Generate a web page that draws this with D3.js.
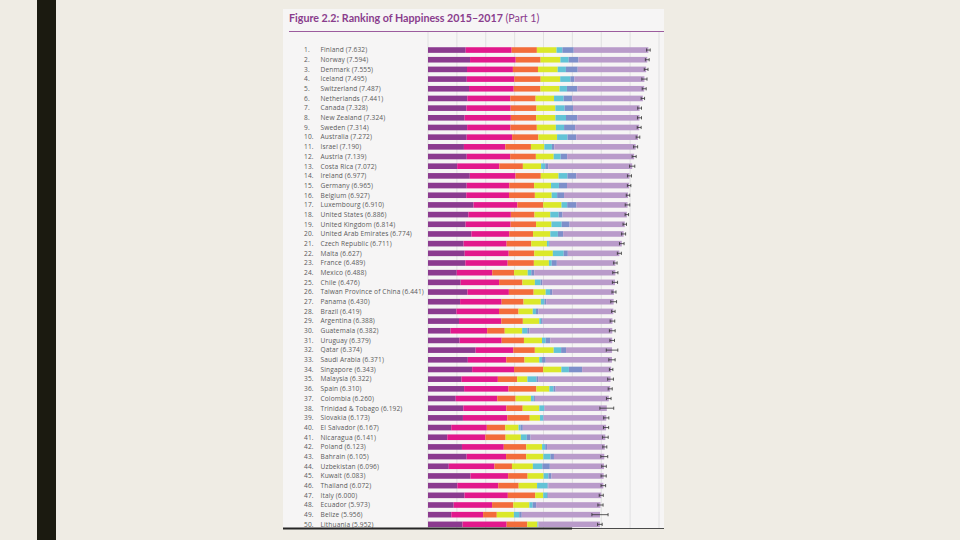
<!DOCTYPE html>
<html>
<head>
<meta charset="utf-8">
<script src="https://cdn.jsdelivr.net/npm/d3@7"></script>
<style>
  html, body { margin: 0; padding: 0; background: #efece4; }
  svg { display: block; }
</style>
</head>
<body>
<svg id="chart" width="960" height="540"></svg>
<script>
// countries in rank order, with the overall score
const countries = ["Finland","Norway","Denmark","Iceland","Switzerland","Netherlands","Canada","New Zealand","Sweden","Australia",
  "Israel","Austria","Costa Rica","Ireland","Germany","Belgium","Luxembourg","United States","United Kingdom","United Arab Emirates",
  "Czech Republic","Malta","France","Mexico","Chile","Taiwan Province of China","Panama","Brazil","Argentina","Guatemala",
  "Uruguay","Qatar","Saudi Arabia","Singapore","Malaysia","Spain","Colombia","Trinidad & Tobago","Slovakia","El Salvador",
  "Nicaragua","Poland","Bahrain","Uzbekistan","Kuwait","Thailand","Italy","Ecuador","Belize","Lithuania"];
const scores = [7.632,7.594,7.555,7.495,7.487,7.441,7.328,7.324,7.314,7.272,
  7.190,7.139,7.072,6.977,6.965,6.927,6.910,6.886,6.814,6.774,
  6.711,6.627,6.489,6.488,6.476,6.441,6.430,6.419,6.388,6.382,
  6.379,6.374,6.371,6.343,6.322,6.310,6.260,6.192,6.173,6.167,
  6.141,6.123,6.105,6.096,6.083,6.072,6.000,5.973,5.956,5.952];

// explained by ...
const gdp = [1.305,1.456,1.351,1.343,1.420,1.361,1.330,1.268,1.355,1.340,
  1.244,1.341,1.010,1.448,1.340,1.324,1.576,1.398,1.301,1.503,
  1.233,1.270,1.293,0.996,1.131,1.365,1.112,0.986,1.073,0.781,
  1.093,1.649,1.379,1.529,1.161,1.251,0.960,1.223,1.210,0.806,
  0.668,1.176,1.338,0.719,1.474,1.016,1.264,0.889,0.807,1.197];
const social = [1.592,1.582,1.590,1.644,1.549,1.488,1.532,1.601,1.501,1.573,
  1.433,1.504,1.459,1.583,1.474,1.483,1.520,1.471,1.559,1.310,
  1.489,1.525,1.466,1.229,1.331,1.436,1.438,1.474,1.468,1.268,
  1.459,1.303,1.331,1.451,1.258,1.538,1.439,1.492,1.537,1.231,
  1.319,1.448,1.366,1.584,1.301,1.417,1.501,1.330,1.101,1.527];
const health = [0.874,0.861,0.868,0.914,0.927,0.878,0.896,0.876,0.913,0.910,
  0.888,0.891,0.817,0.876,0.861,0.894,0.896,0.819,0.883,0.825,
  0.854,0.884,0.908,0.757,0.808,0.857,0.759,0.675,0.744,0.608,
  0.771,0.748,0.633,1.008,0.669,0.965,0.635,0.564,0.776,0.639,
  0.700,0.781,0.698,0.605,0.675,0.707,0.946,0.736,0.474,0.716];
const freedom = [0.681,0.686,0.683,0.677,0.660,0.638,0.653,0.669,0.659,0.647,
  0.464,0.617,0.632,0.614,0.586,0.583,0.632,0.547,0.533,0.598,
  0.543,0.645,0.520,0.472,0.431,0.418,0.597,0.493,0.570,0.604,
  0.625,0.654,0.509,0.631,0.356,0.449,0.531,0.575,0.354,0.461,
  0.527,0.546,0.594,0.724,0.554,0.637,0.281,0.556,0.593,0.350];
const generosity = [0.202,0.286,0.284,0.353,0.256,0.333,0.321,0.365,0.285,0.361,
  0.262,0.242,0.143,0.307,0.273,0.188,0.196,0.291,0.354,0.262,
  0.064,0.376,0.098,0.124,0.197,0.151,0.125,0.110,0.062,0.179,
  0.130,0.256,0.098,0.261,0.311,0.142,0.099,0.171,0.118,0.065,
  0.208,0.108,0.243,0.328,0.167,0.364,0.137,0.114,0.183,0.026];
const corruption = [0.393,0.340,0.408,0.138,0.357,0.295,0.291,0.389,0.383,0.302,
  0.082,0.224,0.101,0.306,0.280,0.240,0.321,0.133,0.272,0.182,
  0.034,0.142,0.176,0.101,0.061,0.078,0.063,0.088,0.054,0.071,
  0.155,0.171,0.127,0.457,0.059,0.074,0.039,0.019,0.014,0.082,
  0.128,0.064,0.123,0.259,0.106,0.029,0.028,0.120,0.089,0.006];
// half width of the 95% confidence whisker
const whisker = [0.063,0.066,0.065,0.090,0.069,0.059,0.066,0.070,0.068,0.063,
  0.070,0.070,0.090,0.070,0.060,0.060,0.080,0.060,0.060,0.070,
  0.080,0.070,0.060,0.090,0.090,0.070,0.100,0.060,0.080,0.100,
  0.080,0.200,0.110,0.060,0.100,0.070,0.080,0.240,0.090,0.090,
  0.100,0.070,0.120,0.080,0.090,0.080,0.070,0.090,0.280,0.080];

const keys = ["gdp","social","health","freedom","generosity","corruption","dystopia"];
const colors = ["#8b3a8f","#e2188c","#f36c3b","#dbe82a","#62c3d6","#7d8fca","#b99bca"];

const rows = countries.map((c, i) => ({
  rank: i + 1, name: c, score: scores[i],
  gdp: gdp[i], social: social[i], health: health[i], freedom: freedom[i],
  generosity: generosity[i], corruption: corruption[i],
  dystopia: scores[i] - gdp[i] - social[i] - health[i] - freedom[i] - generosity[i] - corruption[i],
  ci: whisker[i]
}));

const svg = d3.select("#chart");

// slide decoration
svg.append("rect").attr("x", 37).attr("y", 0).attr("width", 19).attr("height", 540).attr("fill", "#1b1a10");

// figure panel
const panel = {left: 283, top: 9, right: 664, bottom: 529};
svg.append("rect")
  .attr("x", panel.left).attr("y", panel.top)
  .attr("width", panel.right - panel.left).attr("height", panel.bottom - panel.top)
  .attr("fill", "#f6f5f5");

const title = svg.append("text")
  .attr("x", 289).attr("y", 21.5)
  .attr("font-family", "Lato, 'Open Sans', sans-serif")
  .attr("font-size", 10.7)
  .attr("fill", "#8a3d8d");
title.append("tspan").attr("font-weight", "bold").text("Figure 2.2: Ranking of Happiness 2015–2017 ");
title.append("tspan").attr("font-weight", "normal").text("(Part 1)");

svg.append("line")
  .attr("x1", 289).attr("x2", panel.right).attr("y1", 31.5).attr("y2", 31.5)
  .attr("stroke", "#9c5c9e").attr("stroke-width", 1.2);

const x = d3.scaleLinear().domain([0, 8]).range([428, 659]);
const y = d3.scaleBand()
  .domain(rows.map(d => d.rank))
  .range([45.2, 529.2])
  .paddingInner(0.42)
  .paddingOuter(0.21);

// vertical grid
svg.append("g").selectAll("line")
  .data(d3.range(0, 9))
  .join("line")
  .attr("x1", d => x(d)).attr("x2", d => x(d))
  .attr("y1", 32).attr("y2", panel.bottom)
  .attr("stroke", "#dcdadc").attr("stroke-width", 0.8);

// labels
const labels = svg.append("g")
  .attr("font-family", "'Open Sans', sans-serif")
  .attr("font-size", 6.6)
  .attr("letter-spacing", 0.12)
  .attr("fill", "#5a5a5a");
labels.selectAll("text.rank")
  .data(rows)
  .join("text")
  .attr("class", "rank")
  .attr("x", 304)
  .attr("y", d => y(d.rank) + y.bandwidth() / 2)
  .attr("dy", "0.35em")
  .text(d => d.rank + ".");
labels.selectAll("text.name")
  .data(rows)
  .join("text")
  .attr("class", "name")
  .attr("x", 320.5)
  .attr("y", d => y(d.rank) + y.bandwidth() / 2)
  .attr("dy", "0.35em")
  .text(d => d.name + " (" + d3.format(".3f")(d.score) + ")");

// stacked bars
const stack = d3.stack().keys(keys)(rows);
svg.append("g").selectAll("g")
  .data(stack)
  .join("g")
  .attr("fill", (d, i) => colors[i])
  .selectAll("rect")
  .data(d => d)
  .join("rect")
  .attr("x", d => x(d[0]))
  .attr("width", d => Math.max(0, x(d[1]) - x(d[0])))
  .attr("y", d => y(d.data.rank))
  .attr("height", y.bandwidth());

// confidence whiskers
const wg = svg.append("g").attr("stroke", "#333").attr("stroke-width", 0.8);
rows.forEach(d => {
  const cy = y(d.rank) + y.bandwidth() / 2;
  wg.append("line")
    .attr("x1", x(d.score - d.ci)).attr("x2", x(d.score + d.ci))
    .attr("y1", cy).attr("y2", cy);
  [d.score - d.ci, d.score + d.ci].forEach(v => {
    wg.append("line")
      .attr("x1", x(v)).attr("x2", x(v))
      .attr("y1", cy - 1.6).attr("y2", cy + 1.6);
  });
});

// bottom edge of the cropped figure
svg.append("rect").attr("x", panel.left).attr("y", panel.bottom - 1.5).attr("width", 572 - panel.left).attr("height", 2).attr("fill", "#262626");
svg.append("rect").attr("x", 572).attr("y", panel.bottom - 1).attr("width", panel.right - 572).attr("height", 1).attr("fill", "#4a4a4a");
</script>
</body>
</html>
